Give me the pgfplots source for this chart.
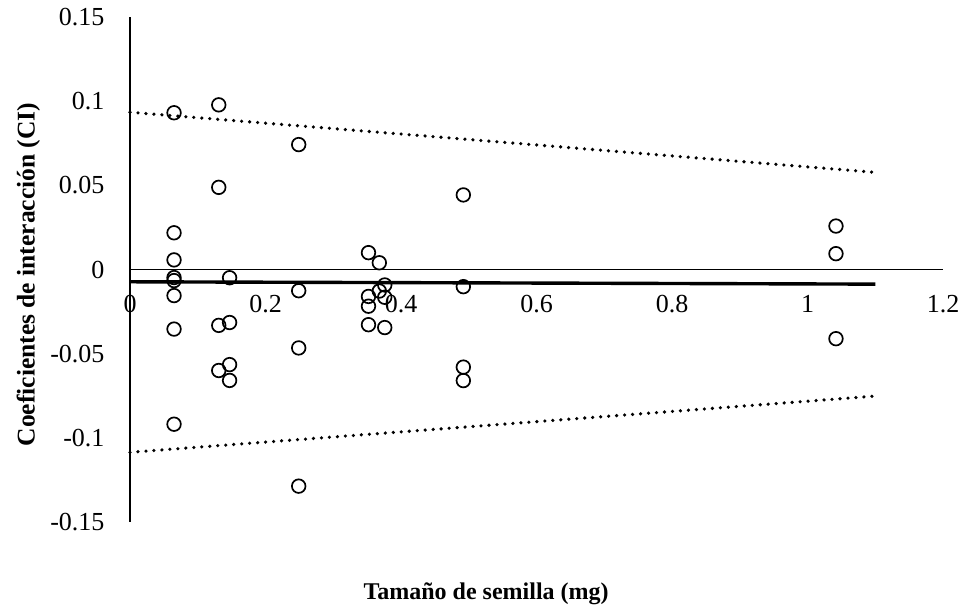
\documentclass[border=0pt]{standalone}
\usepackage{fontspec}
\setmainfont{Liberation Serif}
\usepackage{pgfplots}
\pgfplotsset{compat=1.18}
\begin{document}
\begin{tikzpicture}[x=1bp,y=1bp]
\useasboundingbox (0,0) rectangle (961,610);
\begin{axis}[
  at={(130bp,88bp)}, anchor=south west,
  scale only axis, width=813bp, height=505bp,
  xmin=0, xmax=1.2, ymin=-0.15, ymax=0.15,
  axis lines=middle,
  axis line style={-, line width=1.2bp},
  hide obscured x ticks=false, hide obscured y ticks=false,
  major tick length=0pt,
  xtick={0,0.2,0.4,0.6,0.8,1,1.2},
  xticklabels={0,0.2,0.4,0.6,0.8,1,1.2},
  ytick={-0.15,-0.1,-0.05,0,0.05,0.1,0.15},
  yticklabels={-0.15,-0.1,-0.05,0,0.05,0.1,0.15},
  tick label style={font=\fontsize{26bp}{30bp}\selectfont},
  xticklabel style={anchor=north, yshift=-22bp},
  yticklabel style={anchor=east, xshift=-22bp},
  xlabel={Tamaño de semilla (mg)},
  ylabel={Coeficientes de interacción (CI)},
  every axis x label/.style={at={(axis description cs:0.438,-0.1426)}, anchor=center, font=\fontsize{24bp}{28bp}\selectfont\bfseries},
  every axis y label/.style={at={(axis description cs:-0.125,0.49)}, anchor=center, rotate=90, font=\fontsize{25.5bp}{29bp}\selectfont\bfseries},
  clip=false,
]
% regression line
\addplot[black, line width=3.4bp] coordinates {(0,-0.0073) (1.1,-0.0087)};
% prediction bands
\addplot[black, line width=3.6bp, line cap=round, dash pattern=on 0bp off 8bp] coordinates {(0,0.0934) (0.55,0.0756) (1.1,0.0577)};
\addplot[black, line width=3.6bp, line cap=round, dash pattern=on 0bp off 8bp] coordinates {(0,-0.1086) (0.55,-0.0919) (1.1,-0.0752)};
% data
\addplot[only marks, mark=o, mark size=6.8bp, mark options={line width=1.7bp, fill=white}, black] coordinates {
(0.065,0.0931) (0.065,0.0218) (0.065,0.0057) (0.065,-0.0048) (0.065,-0.0066) (0.065,-0.0155) (0.065,-0.0354) (0.065,-0.0919)
(0.131,0.0978) (0.131,0.0488) (0.131,-0.0332) (0.131,-0.0600)
(0.147,-0.0049) (0.147,-0.0315) (0.147,-0.0565) (0.147,-0.0659)
(0.249,0.0742) (0.249,-0.0126) (0.249,-0.0466) (0.249,-0.1287)
(0.352,0.0100) (0.352,-0.0160) (0.352,-0.0218) (0.352,-0.0328)
(0.368,0.0040) (0.368,-0.0128) (0.376,-0.0092) (0.376,-0.0165) (0.376,-0.0345)
(0.492,0.0443) (0.492,-0.0102) (0.492,-0.0580) (0.492,-0.0660)
(1.042,0.0258) (1.042,0.0094) (1.042,-0.0411)
};
\end{axis}
\end{tikzpicture}
\end{document}
